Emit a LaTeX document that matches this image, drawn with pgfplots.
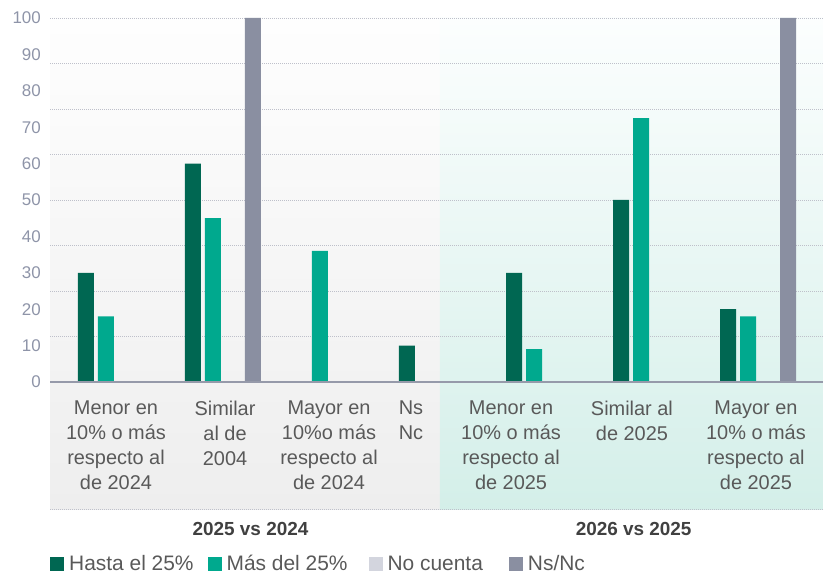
\documentclass[border=0pt]{standalone}
\usepackage{pgfplots}
\pgfplotsset{compat=1.18}
\usepackage{fontspec}
\setmainfont{Liberation Sans}
\definecolor{cDark}{RGB}{0,103,82}
\definecolor{cTeal}{RGB}{0,169,142}
\definecolor{cNoC}{RGB}{211,213,222}
\definecolor{cNs}{RGB}{138,143,161}
\definecolor{cGrid}{RGB}{190,192,202}
\definecolor{cTick}{RGB}{142,148,168}
\definecolor{cLabel}{RGB}{89,89,89}
\definecolor{cGroup}{RGB}{64,64,64}
\definecolor{cAxis}{RGB}{150,154,170}
\definecolor{cGa}{RGB}{254,254,254}
\definecolor{cGb}{RGB}{238,238,238}
\definecolor{cHa}{RGB}{252,254,254}
\definecolor{cHb}{RGB}{212,239,233}
\begin{document}
\begin{tikzpicture}
\begin{axis}[
 set layers,
 at={(0,0)}, anchor=south west,
 scale only axis, width=773bp, height=364bp,
 xmin=-0.6168, xmax=6.6075, ymin=0, ymax=100,
 axis line style={draw=none},
 xtick=\empty,
 ytick={0,10,...,100},
 extra y ticks={12.5,25,37.5,50,62.5,75,87.5,100},
 extra y tick labels={},
 extra y tick style={grid=major},
 major grid style={draw=cGrid, line width=0.9bp, dash pattern=on 1bp off 1bp},
 major tick length=0pt,
 tick style={draw=none},
 yticklabel style={font=\fontsize{17}{17}\selectfont, text=cTick, inner sep=0pt, anchor=east, xshift=-9bp},
 /pgf/number format/assume math mode=true,
 ybar=4bp, bar width=16bp,
 clip=false,
 legend columns=4,
 legend image code/.code={\fill[#1] (0bp,-7bp) rectangle (14bp,7bp);},
 legend style={at={(axis description cs:0,0)}, anchor=west, yshift=-182bp,
   draw=none, fill=none, inner sep=0pt,
   nodes={inner sep=0pt, text=cLabel, font=\fontsize{21}{21}\selectfont},
   /tikz/every odd column/.append style={column sep=5bp},
   /tikz/every even column/.append style={column sep=14bp}},
]
\begin{pgfonlayer}{axis background}
\fill[top color=cGa, bottom color=cGb] (axis cs:-0.6168,100) rectangle (axis cs:3.028,-34.89);
\fill[top color=cHa, bottom color=cHb] (axis cs:3.028,100) rectangle (axis cs:6.6075,-34.89);
\end{pgfonlayer}
\addplot[fill=cDark, draw=none] coordinates {(0,30) (1,60) (2,0) (3,10) (4,30) (5,50) (6,20)};
\addlegendentry{Hasta el 25\%}
\addplot[fill=cTeal, draw=none] coordinates {(0,18) (1,45) (2,36) (3,0) (4,9) (5,72.5) (6,18)};
\addlegendentry{Más del 25\%\hspace*{7bp}}
\addplot[fill=cNoC, draw=none] coordinates {(0,0) (1,0) (2,0) (3,0) (4,0) (5,0) (6,0)};
\addlegendentry{No cuenta\hspace*{12bp}}
\addplot[fill=cNs, draw=none] coordinates {(0,0) (1,100) (2,0) (3,0) (4,0) (5,0) (6,100)};
\addlegendentry{Ns/Nc}
\draw[cAxis, line width=1.6bp] (axis cs:-0.6168,0) -- (axis cs:6.6075,0);
\draw[cGrid, line width=0.9bp, dash pattern=on 1bp off 1bp] (axis cs:-0.6168,-34.89) -- (axis cs:6.6075,-34.89);
\tikzset{cat/.style={anchor=north, inner sep=0pt, align=center, text=cLabel, font=\fontsize{20}{25}\selectfont, yshift=-19bp}}
\node[cat] at (axis cs:0,0) {Menor en\\10\% o más\\respecto al\\de 2024};
\node[cat] at (axis cs:1.019,0) {Similar\\al de\\2004};
\node[cat] at (axis cs:1.991,0) {Mayor en\\10\%o más\\respecto al\\de 2024};
\node[cat] at (axis cs:2.757,0) {Ns\\Nc};
\node[cat] at (axis cs:3.692,0) {Menor en\\10\% o más\\respecto al\\de 2025};
\node[cat] at (axis cs:4.822,0) {Similar al\\de 2025};
\node[cat] at (axis cs:5.981,0) {Mayor en\\10\% o más\\respecto al\\de 2025};
\tikzset{grp/.style={anchor=base, inner sep=0pt, text=cGroup, font=\fontsize{19}{19}\selectfont\bfseries, yshift=-153bp}}
\node[grp] at (axis cs:1.257,0) {2025 vs 2024};
\node[grp] at (axis cs:4.838,0) {2026 vs 2025};
\end{axis}
\pgfresetboundingbox
\path (-50bp,-193bp) rectangle (773bp,382bp);
\end{tikzpicture}
\end{document}
